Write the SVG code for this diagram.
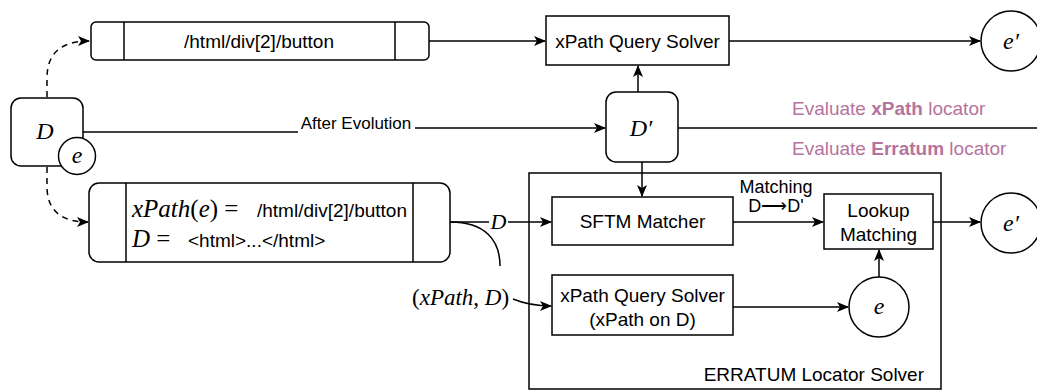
<svg xmlns="http://www.w3.org/2000/svg" width="1037" height="390" viewBox="0 0 1037 390">
<defs>
<marker id="arr" viewBox="0 0 12 10" refX="11" refY="5" markerWidth="12" markerHeight="10" markerUnits="userSpaceOnUse" orient="auto">
<path d="M0,0 L12,5 L0,10 L3,5 Z" fill="#000"/>
</marker>
</defs>
<style>
.box{fill:#fff;stroke:#000;stroke-width:1.5}
.ln{fill:none;stroke:#000;stroke-width:1.5}
.dash{fill:none;stroke:#000;stroke-width:1.5;stroke-dasharray:6,5}
.t{font-family:"Liberation Sans",Arial,sans-serif;font-size:19px;fill:#000}
.tm{font-family:"Liberation Sans",Arial,sans-serif;font-size:18px;fill:#000}
.m{font-family:"Liberation Serif","Times New Roman",serif;font-style:italic;font-size:24px;fill:#000}
.mu{font-family:"Liberation Serif","Times New Roman",serif;font-size:24px;fill:#000}
.i{font-style:italic}
.ev{font-family:"Liberation Sans",Arial,sans-serif;font-size:19px;fill:#B5739D}
</style>

<g id="container-erratum">
<rect class="box" x="529" y="173" width="412" height="216"/>
<text class="t" x="924" y="381" text-anchor="end">ERRATUM Locator Solver</text>
</g>

<g id="node-D">
<rect class="box" x="11" y="98" width="72" height="68" rx="10"/>
<text class="m" x="45" y="139" text-anchor="middle">D</text>
<circle class="box" cx="77" cy="156" r="18.5"/>
<text class="m" x="77" y="163" text-anchor="middle">e</text>
</g>

<g id="node-xpath-locator">
<rect class="box" x="91" y="22" width="338" height="38" rx="5"/>
<line class="ln" x1="124" y1="22" x2="124" y2="60"/>
<line class="ln" x1="395" y1="22" x2="395" y2="60"/>
<text class="t" x="259" y="48" text-anchor="middle">/html/div[2]/button</text>
</g>

<g id="node-erratum-locator">
<rect class="box" x="89" y="183" width="361" height="79" rx="10"/>
<line class="ln" x1="126" y1="183" x2="126" y2="262"/>
<line class="ln" x1="413" y1="183" x2="413" y2="262"/>
<text class="mu" x="132" y="217" style="font-size:25px"><tspan class="i">xPath</tspan>(<tspan class="i">e</tspan>) =</text>
<text class="t" x="257" y="217">/html/div[2]/button</text>
<text class="mu" x="132" y="247" style="font-size:25px"><tspan class="i">D</tspan> =</text>
<text class="t" x="188" y="247">&lt;html&gt;...&lt;/html&gt;</text>
</g>

<g id="node-xpath-solver">
<rect class="box" x="546" y="16" width="183" height="49"/>
<text class="t" x="637.5" y="48" text-anchor="middle">xPath Query Solver</text>
</g>

<g id="node-Dprime">
<rect class="box" x="606" y="92" width="72" height="70" rx="10"/>
<text class="m" x="641" y="136" text-anchor="middle">D′</text>
</g>

<g id="node-eprime-top">
<circle class="box" cx="1011" cy="41" r="30"/>
<text class="m" x="1011" y="49" text-anchor="middle">e′</text>
</g>

<g id="node-sftm">
<rect class="box" x="552" y="197" width="181" height="48"/>
<text class="t" x="642.5" y="228" text-anchor="middle">SFTM Matcher</text>
</g>

<g id="node-xpath-solver2">
<rect class="box" x="552" y="275" width="181" height="60"/>
<text class="t" x="642.5" y="302" text-anchor="middle">xPath Query Solver</text>
<text class="t" x="642.5" y="326" text-anchor="middle">(xPath on D)</text>
</g>

<g id="node-lookup">
<rect class="box" x="824" y="194" width="109" height="55"/>
<text class="t" x="878.5" y="217" text-anchor="middle">Lookup</text>
<text class="t" x="878.5" y="241" text-anchor="middle">Matching</text>
</g>

<g id="node-e">
<circle class="box" cx="879" cy="307" r="30"/>
<text class="m" x="879" y="314" text-anchor="middle">e</text>
</g>

<g id="node-eprime-bottom">
<circle class="box" cx="1011" cy="223" r="30"/>
<text class="m" x="1011" y="231" text-anchor="middle">e′</text>
</g>

<g id="connectors">
<path class="dash" d="M47,97 L47,78 Q47,41 89,41" marker-end="url(#arr)"/>
<path class="dash" d="M47,167 L47,188 Q48,222 88,222" marker-end="url(#arr)"/>
<path class="ln" d="M429,41 L545,41" marker-end="url(#arr)"/>
<path class="ln" d="M729,41 L980,41" marker-end="url(#arr)"/>
<path class="ln" d="M83,132 L298,132"/>
<text class="tm" x="356" y="129" text-anchor="middle" style="font-size:17px">After Evolution</text>
<path class="ln" d="M415,128 L605,128" marker-end="url(#arr)"/>
<path class="ln" d="M638,92 L638,66" marker-end="url(#arr)"/>
<path class="ln" d="M678,128 L1037,128"/>
<text class="ev" x="792" y="115">Evaluate <tspan font-weight="bold">xPath</tspan> locator</text>
<text class="ev" x="792" y="155">Evaluate <tspan font-weight="bold">Erratum</tspan> locator</text>
<path class="ln" d="M642,162 L642,196" marker-end="url(#arr)"/>
<path class="ln" d="M450,222 L489,222"/>
<text class="m" x="498.5" y="229" text-anchor="middle" style="font-size:22px">D</text>
<path class="ln" d="M508,222 L551,222" marker-end="url(#arr)"/>
<path class="ln" d="M450,222 C485,222 500,240 500,266"/>
<text class="mu" x="412" y="305" style="font-size:23px">(<tspan class="i">xPath</tspan>, <tspan class="i">D</tspan>)</text>
<path class="ln" d="M513,299 Q530,306 551,306" marker-end="url(#arr)"/>
<path class="ln" d="M733,222 L823,222" marker-end="url(#arr)"/>
<text class="tm" x="776" y="193" text-anchor="middle">Matching</text>
<text class="tm" x="776" y="212" text-anchor="middle">D⟶D'</text>
<path class="ln" d="M879,277 L879,250" marker-end="url(#arr)"/>
<path class="ln" d="M733,307 L848,307" marker-end="url(#arr)"/>
<path class="ln" d="M933,222 L980,222" marker-end="url(#arr)"/>
</g>
</svg>
